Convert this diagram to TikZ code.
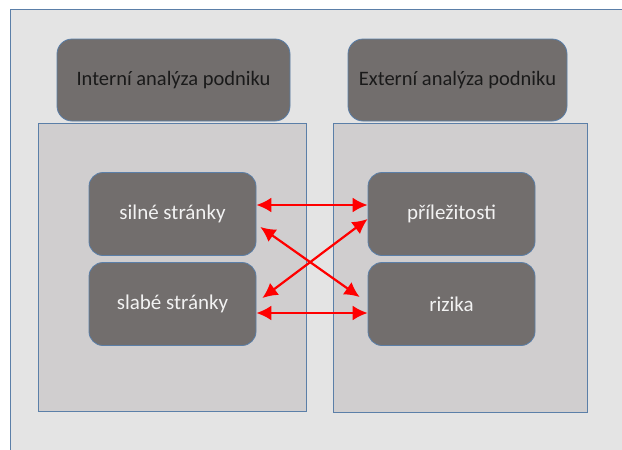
\documentclass[tikz,border=0pt]{standalone}
\usepackage{fontspec}
\setmainfont{Carlito}
\usetikzlibrary{arrows.meta}
\definecolor{outerbg}{HTML}{E4E4E4}
\definecolor{panelbg}{HTML}{D0CECF}
\definecolor{boxbg}{HTML}{726E6D}
\definecolor{edge}{HTML}{5B7FA8}
\definecolor{darktext}{HTML}{1A1A1A}
\definecolor{lighttext}{HTML}{F2F2F2}
\tikzset{
  panel/.style={draw=edge, fill=panelbg, line width=1pt},
  headbox/.style={draw=edge, fill=boxbg, rounded corners=15pt, line width=0.8pt,
    minimum width=233pt, minimum height=82pt, inner sep=0pt,
    text=darktext, font=\fontsize{20.5}{24}\selectfont},
  itembox/.style={draw=edge, fill=boxbg, rounded corners=14pt, line width=0.8pt,
    minimum width=167pt, minimum height=83pt, inner sep=0pt,
    text=lighttext, font=\fontsize{21}{25}\selectfont},
  link/.style={draw=red, line width=2.2pt, {Latex[length=15pt,width=15pt]}-{Latex[length=15pt,width=15pt]}}
}
\begin{document}
\begin{tikzpicture}[x=1pt,y=-1pt]
\useasboundingbox (0,0) rectangle (622,450);
\clip (0,0) rectangle (622,450);
\fill[white] (0,0) rectangle (622,450);
\draw[edge, fill=outerbg, line width=1pt] (10,9) rectangle (640,470);
% panels
\draw[panel] (38,123) rectangle (306,411);
\draw[panel] (333,123) rectangle (587,412);
% header boxes
\node[headbox] (int) at (173.5,80) {Interní analýza podniku};
\node[headbox, minimum width=219pt] (ext) at (457.5,80) {Externí analýza podniku};
% items
\node[itembox] (sil) at (172.5,214) {\raisebox{-2pt}{silné stránky}};
\node[itembox] (sla) at (172.5,304) {\raisebox{-2pt}{slabé stránky}};
\node[itembox] (pri) at (451.5,214) {\raisebox{-2pt}{příležitosti}};
\node[itembox] (riz) at (451.5,304) {\raisebox{-2pt}{rizika}};
% arrows
\draw[link] ([yshift=9pt]sil.east) -- ([yshift=9pt]pri.west);
\draw[link] ([yshift=-9pt]sla.east) -- ([yshift=-9pt]riz.west);
\draw[link] ([xshift=4pt,yshift=-13pt]sil.east) -- ([xshift=-8pt,yshift=7pt]riz.west);
\draw[link] ([yshift=-5pt]pri.west) -- ([xshift=6pt,yshift=6pt]sla.east);
\end{tikzpicture}
\end{document}
